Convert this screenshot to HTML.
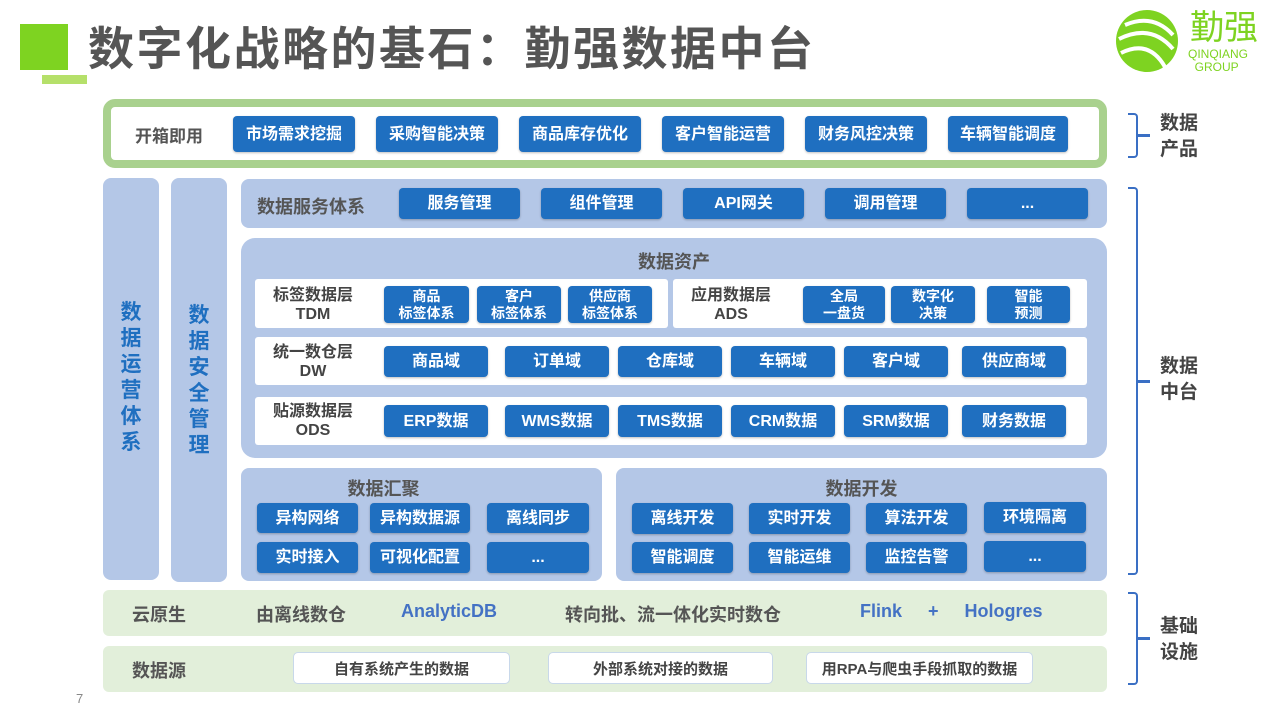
<!DOCTYPE html>
<html><head><meta charset="utf-8">
<style>
*{margin:0;padding:0;box-sizing:border-box}
body{width:1280px;height:709px;background:#fff;position:relative;overflow:hidden;font-family:"Liberation Sans","Noto Sans CJK SC",sans-serif;font-weight:bold}
div{position:absolute}
.b{background:#1f6fc0;color:#fff;border-radius:4px;display:flex;align-items:center;justify-content:center;font-size:16px;text-align:center;line-height:17px;box-shadow:0 1px 2px rgba(0,0,0,.25)}
.pb{background:#b4c7e7;border-radius:12px}
.w{background:#fff;border-radius:3px}
.lbl{color:#444;font-size:16px;text-align:center;line-height:19px}
.t{color:#555;font-size:18px}
.br{border:2.5px solid #3a6fc4;border-left:none;width:10px;border-radius:0 4px 4px 0}
.brt{width:12px;height:2.5px;background:#3a6fc4}
.rl{color:#444;font-size:19px;line-height:26px}
</style></head><body>
<div style="left:20px;top:24px;width:48px;height:46px;background:#7ed321"></div>
<div style="left:42px;top:75px;width:45px;height:9px;background:#b5e06a"></div>
<div style="left:88px;top:20px;font-size:46px;color:#555;letter-spacing:2.5px;line-height:58px">数字化战略的基石：勤强数据中台</div>
<svg style="position:absolute;left:1113px;top:5px" width="70" height="70" viewBox="0 0 70 70"><circle cx="34" cy="36" r="31" fill="#7ed321"/><path d="M12 20 Q40 8 60 30 M6 34 Q38 18 60 44 M8 48 Q36 34 52 62" stroke="#fff" stroke-width="4" fill="none"/></svg>
<div style="left:1190px;top:8px;font-size:34px;color:#7ed321;font-weight:normal;line-height:40px">勤强</div>
<div style="left:1188px;top:48px;font-size:12px;color:#7ed321;font-weight:normal;line-height:13px">QINQIANG<br>&nbsp;&nbsp;GROUP</div>

<div style="left:103px;top:99px;width:1004px;height:69px;border:8px solid #a9d18e;border-radius:12px;background:#fff"></div>
<div class="t" style="left:135px;top:122px;font-size:17px">开箱即用</div>
<div class="b" style="left:233px;top:116px;width:122px;height:36px">市场需求挖掘</div>
<div class="b" style="left:376px;top:116px;width:122px;height:36px">采购智能决策</div>
<div class="b" style="left:519px;top:116px;width:122px;height:36px">商品库存优化</div>
<div class="b" style="left:662px;top:116px;width:122px;height:36px">客户智能运营</div>
<div class="b" style="left:805px;top:116px;width:122px;height:36px">财务风控决策</div>
<div class="b" style="left:948px;top:116px;width:120px;height:36px">车辆智能调度</div>

<div class="pb" style="left:103px;top:178px;width:56px;height:402px;border-radius:8px"></div>
<div style="left:103px;top:300px;width:56px;text-align:center;color:#1f6fc0;font-size:21px;line-height:26px">数<br>据<br>运<br>营<br>体<br>系</div>
<div class="pb" style="left:171px;top:178px;width:56px;height:404px;border-radius:8px"></div>
<div style="left:171px;top:303px;width:56px;text-align:center;color:#1f6fc0;font-size:21px;line-height:26px">数<br>据<br>安<br>全<br>管<br>理</div>

<div class="pb" style="left:241px;top:179px;width:866px;height:49px;border-radius:8px"></div>
<div class="t" style="left:257px;top:193px">数据服务体系</div>
<div class="b" style="left:399px;top:188px;width:121px;height:31px">服务管理</div>
<div class="b" style="left:541px;top:188px;width:121px;height:31px">组件管理</div>
<div class="b" style="left:683px;top:188px;width:121px;height:31px">API网关</div>
<div class="b" style="left:825px;top:188px;width:121px;height:31px">调用管理</div>
<div class="b" style="left:967px;top:188px;width:121px;height:31px">...</div>

<div class="pb" style="left:241px;top:238px;width:866px;height:220px;border-radius:14px"></div>
<div class="t" style="left:241px;top:248px;width:866px;text-align:center">数据资产</div>
<div class="w" style="left:255px;top:279px;width:413px;height:49px"></div>
<div class="w" style="left:673px;top:279px;width:414px;height:49px"></div>
<div class="lbl" style="left:262px;top:286px;width:102px">标签数据层<br>TDM</div>
<div class="b" style="left:384px;top:286px;width:85px;height:37px;font-size:14px">商品<br>标签体系</div>
<div class="b" style="left:477px;top:286px;width:84px;height:37px;font-size:14px">客户<br>标签体系</div>
<div class="b" style="left:568px;top:286px;width:84px;height:37px;font-size:14px">供应商<br>标签体系</div>
<div class="lbl" style="left:680px;top:286px;width:102px">应用数据层<br>ADS</div>
<div class="b" style="left:803px;top:286px;width:82px;height:37px;font-size:14px">全局<br>一盘货</div>
<div class="b" style="left:891px;top:286px;width:84px;height:37px;font-size:14px">数字化<br>决策</div>
<div class="b" style="left:987px;top:286px;width:83px;height:37px;font-size:14px">智能<br>预测</div>

<div class="w" style="left:255px;top:337px;width:832px;height:48px"></div>
<div class="lbl" style="left:262px;top:343px;width:102px">统一数仓层<br>DW</div>
<div class="b" style="left:384px;top:346px;width:104px;height:31px">商品域</div>
<div class="b" style="left:505px;top:346px;width:104px;height:31px">订单域</div>
<div class="b" style="left:618px;top:346px;width:104px;height:31px">仓库域</div>
<div class="b" style="left:731px;top:346px;width:104px;height:31px">车辆域</div>
<div class="b" style="left:844px;top:346px;width:104px;height:31px">客户域</div>
<div class="b" style="left:962px;top:346px;width:104px;height:31px">供应商域</div>

<div class="w" style="left:255px;top:397px;width:832px;height:48px"></div>
<div class="lbl" style="left:262px;top:402px;width:102px">贴源数据层<br>ODS</div>
<div class="b" style="left:384px;top:405px;width:104px;height:32px">ERP数据</div>
<div class="b" style="left:505px;top:405px;width:104px;height:32px">WMS数据</div>
<div class="b" style="left:618px;top:405px;width:104px;height:32px">TMS数据</div>
<div class="b" style="left:731px;top:405px;width:104px;height:32px">CRM数据</div>
<div class="b" style="left:844px;top:405px;width:104px;height:32px">SRM数据</div>
<div class="b" style="left:962px;top:405px;width:104px;height:32px">财务数据</div>

<div class="pb" style="left:241px;top:468px;width:361px;height:113px;border-radius:8px"></div>
<div class="t" style="left:241px;top:475px;width:285px;text-align:center">数据汇聚</div>
<div class="b" style="left:257px;top:503px;width:101px;height:30px">异构网络</div>
<div class="b" style="left:370px;top:503px;width:100px;height:30px">异构数据源</div>
<div class="b" style="left:487px;top:503px;width:102px;height:30px">离线同步</div>
<div class="b" style="left:257px;top:542px;width:101px;height:31px">实时接入</div>
<div class="b" style="left:370px;top:542px;width:100px;height:31px">可视化配置</div>
<div class="b" style="left:487px;top:542px;width:102px;height:31px">...</div>

<div class="pb" style="left:616px;top:468px;width:491px;height:113px;border-radius:8px"></div>
<div class="t" style="left:616px;top:475px;width:491px;text-align:center">数据开发</div>
<div class="b" style="left:632px;top:503px;width:101px;height:31px">离线开发</div>
<div class="b" style="left:749px;top:503px;width:101px;height:31px">实时开发</div>
<div class="b" style="left:866px;top:503px;width:101px;height:31px">算法开发</div>
<div class="b" style="left:984px;top:502px;width:102px;height:31px">环境隔离</div>
<div class="b" style="left:632px;top:542px;width:101px;height:31px">智能调度</div>
<div class="b" style="left:749px;top:542px;width:101px;height:31px">智能运维</div>
<div class="b" style="left:866px;top:542px;width:101px;height:31px">监控告警</div>
<div class="b" style="left:984px;top:541px;width:102px;height:31px">...</div>

<div style="left:103px;top:590px;width:1004px;height:46px;background:#e2efda;border-radius:6px"></div>
<div class="t" style="left:132px;top:601px">云原生</div>
<div class="t" style="left:256px;top:601px">由离线数仓</div>
<div class="t" style="left:401px;top:601px;color:#4472c4">AnalyticDB</div>
<div class="t" style="left:565px;top:601px">转向批、流一体化实时数仓</div>
<div class="t" style="left:860px;top:601px;color:#4472c4;word-spacing:8px">Flink&nbsp; + &nbsp;Hologres</div>

<div style="left:103px;top:646px;width:1004px;height:46px;background:#e2efda;border-radius:6px"></div>
<div class="t" style="left:132px;top:657px">数据源</div>
<div class="w" style="left:293px;top:652px;width:217px;height:32px;border:1px solid #c8d8ea;border-radius:5px;display:flex;align-items:center;justify-content:center;color:#444;font-size:15px">自有系统产生的数据</div>
<div class="w" style="left:548px;top:652px;width:225px;height:32px;border:1px solid #c8d8ea;border-radius:5px;display:flex;align-items:center;justify-content:center;color:#444;font-size:15px">外部系统对接的数据</div>
<div class="w" style="left:806px;top:652px;width:227px;height:32px;border:1px solid #c8d8ea;border-radius:5px;display:flex;align-items:center;justify-content:center;color:#444;font-size:15px">用RPA与爬虫手段抓取的数据</div>

<div class="br" style="left:1128px;top:113px;height:45px"></div>
<div class="brt" style="left:1138px;top:134px"></div>
<div class="rl" style="left:1160px;top:111px">数据<br>产品</div>
<div class="br" style="left:1128px;top:187px;height:388px"></div>
<div class="brt" style="left:1138px;top:380px"></div>
<div class="rl" style="left:1160px;top:354px">数据<br>中台</div>
<div class="br" style="left:1128px;top:592px;height:93px"></div>
<div class="brt" style="left:1138px;top:637px"></div>
<div class="rl" style="left:1160px;top:614px">基础<br>设施</div>

<div style="left:76px;top:691px;font-size:13px;color:#888;font-weight:normal">7</div>
</body></html>
